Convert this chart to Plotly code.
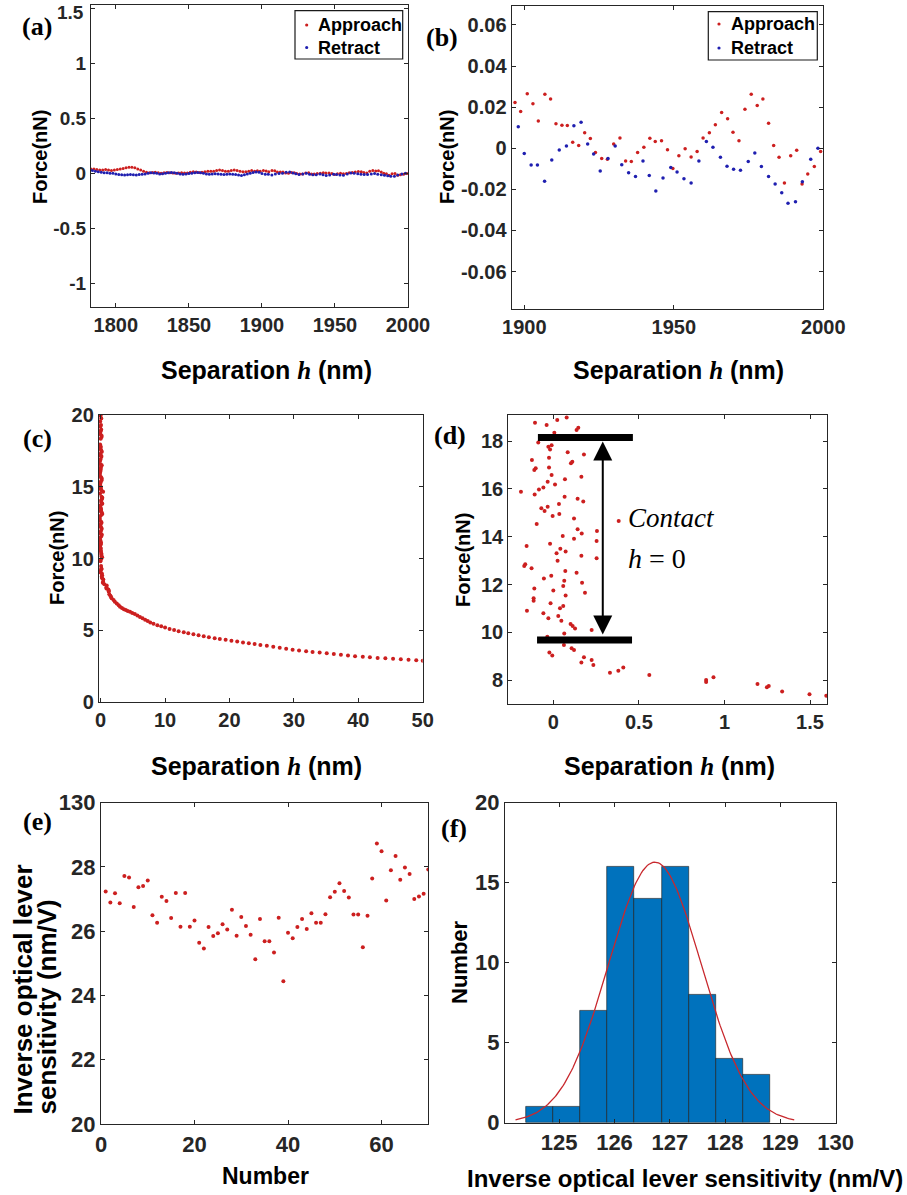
import plotly.graph_objects as go
import numpy as np

W, H = 907, 1195

# ---------------- (a)/(b) force vs separation far from surface ----------------
# part of the curves shown only in (a) (1783-1896 nm)
approach_x_far = [1783, 1785, 1787, 1789, 1791, 1793, 1795, 1797, 1799,
                  1801, 1803, 1805, 1807, 1809, 1811, 1813, 1815, 1817, 1819,
                  1821, 1823, 1825, 1827, 1829, 1831, 1833, 1835, 1837, 1839, 1841, 1843, 1845, 1847, 1849,
                  1851, 1853, 1855, 1857, 1859, 1861, 1863, 1865, 1867, 1869, 1871, 1873,
                  1875, 1877, 1879, 1881, 1883, 1885, 1887, 1889, 1891, 1893, 1895]
approach_f_far = [0.04, 0.04, 0.035, 0.03, 0.03, 0.035, 0.03, 0.025, 0.03,
                  0.035, 0.04, 0.045, 0.05, 0.055, 0.055, 0.05, 0.04, 0.03, 0.02,
                  0.01, 0.005, 0.008, 0.01, 0.005, 0.0, 0.005, 0.008, 0.006, 0.003, 0.0, 0.002, 0.005, 0.004, 0.002,
                  0.01, 0.015, 0.012, 0.008, 0.01, 0.015, 0.02, 0.018, 0.02, 0.025, 0.03, 0.025,
                  0.02, 0.02, 0.025, 0.03, 0.025, 0.02, 0.015, 0.015, 0.02, 0.025, 0.02]
retract_x_far = [1784, 1786, 1788, 1790, 1792, 1794, 1796, 1798, 1800,
                 1802, 1804, 1806, 1808, 1810, 1812, 1814, 1816, 1818, 1820,
                 1822, 1824, 1826, 1828, 1830, 1832, 1834, 1836, 1838, 1840, 1842, 1844, 1846, 1848, 1850,
                 1852, 1854, 1856, 1858, 1860, 1862, 1864, 1866, 1868, 1870, 1872, 1874,
                 1876, 1878, 1880, 1882, 1884, 1886, 1888, 1890, 1892, 1894, 1896]
retract_f_far = [0.025, 0.02, 0.015, 0.01, 0.005, 0.005, 0.0, 0.0, -0.005,
                 -0.01, -0.012, -0.015, -0.012, -0.01, -0.012, -0.015, -0.01, -0.008, -0.005,
                 0.0, 0.005, 0.003, 0.0, -0.005, -0.003, 0.0, 0.005, 0.008, 0.005, 0.0, -0.005, -0.008, -0.005, -0.002,
                 0.0, 0.005, 0.008, 0.005, 0.0, -0.005, -0.008, -0.006, -0.004, -0.005, -0.008, -0.01,
                 -0.008, -0.006, -0.008, -0.01, -0.015, -0.02, -0.012, -0.005, 0.0, 0.008, 0.012]

# part shown in (b) (1896-2000 nm), also part of (a)
approach_x = [1896.9, 1898.8, 1901.0, 1902.9, 1904.7, 1906.9, 1908.8, 1910.6, 1912.6, 1914.4,
              1916.2, 1918.2, 1920.2, 1922.1, 1923.8, 1925.9, 1927.8, 1929.9, 1932.0, 1933.9,
              1935.8, 1937.9, 1940.0, 1942.0, 1943.8, 1945.9, 1947.9, 1949.7, 1951.7, 1953.8,
              1955.8, 1957.8, 1959.8, 1961.9, 1963.9, 1966.0, 1968.0, 1969.8, 1971.8, 1973.8,
              1975.9, 1977.9, 1979.8, 1981.7, 1983.4, 1985.2, 1987.0, 1989.1, 1991.1, 1992.9,
              1994.8, 1997.0, 1999.1]
approach_f = [0.0223, 0.0179, 0.0265, 0.0216, 0.0133, 0.0263, 0.0239, 0.0119, 0.0112, 0.0111,
              0.0029, 0.0013, 0.0076, 0.0047, -0.0021, -0.0050, -0.0054, 0.0021, 0.0050, -0.0062,
              -0.0065, -0.0021, 0.0005, 0.0049, 0.0033, 0.0037, -0.0007, -0.0098, -0.0036, -0.0003,
              -0.0042, -0.0016, 0.0050, 0.0076, 0.0114, 0.0174, 0.0143, 0.0078, 0.0037, 0.0190,
              0.0263, 0.0208, 0.0239, 0.0122, 0.0013, -0.0044, -0.0169, -0.0037, -0.0010, -0.0174,
              -0.0125, -0.0089, -0.0016]
retract_x = [1898.0, 1900.0, 1902.3, 1904.4, 1906.8, 1909.2, 1911.7, 1914.1, 1916.6, 1919.0,
             1921.2, 1923.2, 1925.4, 1928.0, 1930.4, 1932.6, 1934.9, 1937.2, 1939.7, 1941.8,
             1944.0, 1946.4, 1949.0, 1951.1, 1953.4, 1955.8, 1958.4, 1960.9, 1963.1, 1965.6,
             1967.8, 1970.0, 1972.3, 1974.9, 1977.1, 1979.3, 1981.7, 1983.9, 1986.1, 1988.2,
             1990.7, 1993.0, 1995.8, 1998.2]
retract_f = [0.0104, -0.0026, -0.0081, -0.0081, -0.0161, -0.0057, -0.0008, 0.0011, 0.0109, 0.0127,
             0.0021, -0.0028, -0.0111, -0.0050, 0.0011, -0.0080, -0.0119, -0.0138, -0.0062, -0.0133,
             -0.0208, -0.0145, -0.0094, -0.0115, -0.0148, -0.0169, -0.0062, 0.0033, 0.0005, -0.0044,
             -0.0088, -0.0102, -0.0107, -0.0065, -0.0023, -0.0089, -0.0138, -0.0174, -0.0216, -0.0268,
             -0.0260, -0.0163, -0.0054, 0.0000]

# ---------------- (c)/(d) approach curve near contact ----------------
contact_h = [-0.107, -0.039, 0.023, 0.078, 0.136, 0.146, -0.088, 0.006, -0.029, -0.019,
             -0.010, 0.084, 0.179, -0.125, -0.025, 0.103, 0.111, -0.111, -0.103, -0.025,
             -0.010, 0.164, 0.068, -0.033, 0.010, -0.058, -0.084, -0.189, -0.109, 0.066,
             0.142, 0.175, -0.070, -0.051, -0.033, 0.033, -0.004, 0.035, 0.382, 0.121,
             -0.097, 0.255, 0.166, 0.142, 0.055, 0.121, -0.156, -0.019, 0.253, 0.041,
             0.072, 0.019, 0.164, 0.253, 0.025, -0.164, -0.170, -0.127, 0.070, 0.136,
             -0.012, -0.055, 0.064, 0.168, 0.058, -0.111, 0.000, 0.185, 0.072, -0.115,
             -0.115, -0.016, 0.058, 0.039, -0.154, -0.058, 0.029, -0.029, 0.047, 0.101,
             0.113, 0.127, 0.224, 0.064, -0.035, 0.062, 0.107, 0.121, -0.023, -0.006,
             0.179, 0.224, 0.164, 0.234, 0.331, 0.380, 0.409, 0.561, 0.893, 0.893,
             0.936, 1.193, 1.248, 1.259, 1.337, 1.497, 1.595,
             0.05, -0.08, 0.10, 0.00, -0.05]
contact_f = [18.77, 18.67, 18.88, 18.99, 18.46, 18.56, 17.94, 18.35, 17.76, 17.65,
             17.83, 17.53, 17.44, 17.21, 17.30, 17.07, 17.14, 16.79, 16.86, 16.90,
             16.58, 16.51, 16.40, 16.30, 16.18, 16.06, 15.98, 15.88, 15.77, 15.67,
             15.59, 15.47, 15.19, 15.08, 15.26, 15.37, 14.87, 14.95, 14.66, 14.76,
             14.53, 14.24, 14.14, 14.31, 14.03, 13.92, 13.61, 13.71, 13.82, 13.50,
             13.38, 13.31, 13.21, 13.10, 13.00, 12.85, 12.78, 12.68, 12.57, 12.50,
             12.37, 12.26, 12.16, 12.08, 11.94, 11.84, 11.75, 11.66, 11.54, 11.43,
             11.33, 11.22, 11.11, 11.01, 10.91, 10.80, 10.69, 10.59, 10.49, 10.35,
             10.27, 10.17, 10.10, 9.96, 9.82, 9.48, 9.34, 9.27, 9.16, 9.04,
             8.96, 8.85, 8.74, 8.64, 8.32, 8.40, 8.54, 8.22, 8.01, 7.93,
             8.13, 7.85, 7.71, 7.76, 7.53, 7.42, 7.35,
             19.30, 19.55, 19.75, 19.95, 19.20]
decay_h = [1.7, 2.0, 2.2, 2.5, 2.8, 3.0, 3.3, 3.6, 3.9, 4.2,
           4.55, 4.9, 5.3, 5.7, 6.1, 6.5, 6.9, 7.3, 7.7, 8.2,
           8.8, 9.4, 10.0, 10.7, 11.4, 12.1, 12.9, 13.6, 14.4, 15.2,
           16.0, 16.8, 17.7, 18.5, 19.4, 20.3, 21.2, 22.1, 23.0, 23.9,
           24.8, 25.8, 26.8, 27.8, 28.8, 29.8, 30.8, 31.9, 32.9, 34.0,
           35.1, 36.2, 37.3, 38.4, 39.5, 40.7, 41.8, 43.0, 44.2, 45.4,
           46.6, 47.8, 49.0, 50.0]
decay_f = [7.25, 7.12, 7.0, 6.88, 6.76, 6.66, 6.56, 6.48, 6.42, 6.36,
           6.3, 6.22, 6.14, 6.05, 5.94, 5.85, 5.75, 5.66, 5.56, 5.46,
           5.36, 5.3, 5.2, 5.1, 5.03, 4.95, 4.87, 4.8, 4.73, 4.66,
           4.59, 4.52, 4.46, 4.41, 4.35, 4.29, 4.23, 4.17, 4.11, 4.05,
           3.99, 3.93, 3.86, 3.79, 3.72, 3.66, 3.6, 3.55, 3.5, 3.46,
           3.41, 3.36, 3.31, 3.26, 3.21, 3.17, 3.13, 3.09, 3.06, 3.03,
           2.99, 2.96, 2.93, 2.9]

# ---------------- (e) sensitivity per measurement ----------------
measurement_no = list(range(1, 71))
sensitivity = [27.24, 26.89, 27.18, 26.87, 27.72, 27.67, 26.75, 27.37, 27.41, 27.58,
               26.50, 26.26, 27.07, 26.94, 26.41, 27.19, 26.14, 27.19, 26.14, 26.33,
               25.64, 25.46, 26.13, 25.85, 25.94, 26.22, 26.05, 26.67, 25.86, 26.44,
               26.16, 25.89, 25.13, 26.38, 25.69, 25.69, 25.34, 26.42, 24.44, 25.95,
               25.78, 26.13, 26.38, 26.07, 26.56, 26.26, 26.26, 26.53, 27.06, 27.23,
               27.49, 27.25, 27.05, 26.52, 26.52, 25.50, 26.48, 27.64, 28.73, 28.49,
               26.96, 27.90, 28.34, 27.60, 27.98, 27.78, 27.00, 27.08, 27.17, 27.92]
e_ytick_vals = [20, 22, 24, 26, 28, 30]
e_ytick_text = ["20", "22", "24", "26", "28", "130"]

# ---------------- (f) histogram ----------------
bin_edges = [124.40, 124.89, 125.38, 125.87, 126.36, 126.85, 127.34, 127.83, 128.32, 128.81]
bin_counts = [1, 1, 7, 16, 14, 16, 8, 4, 3]
fit_mean, fit_sigma = 126.73, 0.84

for a, b in [(approach_x_far, approach_f_far), (retract_x_far, retract_f_far),
             (approach_x, approach_f), (retract_x, retract_f), (contact_h, contact_f),
             (decay_h, decay_f), (measurement_no, sensitivity)]:
    assert len(a) == len(b), (len(a), len(b))
assert len(bin_edges) == len(bin_counts) + 1

RED = "#cc1f1f"
BLUE = "#1f1fb0"
TXT = "#262626"
SANS = "Liberation Sans, Arial, sans-serif"
SERIF = "Liberation Serif, Times New Roman, serif"


def px(x):
    return x / W


def py(y):
    return 1 - y / H


fig = go.Figure()

# (a)
fig.add_trace(go.Scatter(x=approach_x_far + approach_x, y=approach_f_far + approach_f, mode="markers",
                         marker=dict(color=RED, size=3), xaxis="x", yaxis="y", name="Approach"))
fig.add_trace(go.Scatter(x=retract_x_far + retract_x, y=retract_f_far + retract_f, mode="markers",
                         marker=dict(color=BLUE, size=3), xaxis="x", yaxis="y", name="Retract"))
# (b)
fig.add_trace(go.Scatter(x=approach_x, y=approach_f, mode="markers",
                         marker=dict(color=RED, size=3.5), xaxis="x2", yaxis="y2", name="Approach"))
fig.add_trace(go.Scatter(x=retract_x, y=retract_f, mode="markers",
                         marker=dict(color=BLUE, size=3.5), xaxis="x2", yaxis="y2", name="Retract"))
# (c)
fig.add_trace(go.Scatter(x=contact_h + decay_h, y=contact_f + decay_f, mode="markers",
                         marker=dict(color=RED, size=4), xaxis="x3", yaxis="y3"))
# (d)
fig.add_trace(go.Scatter(x=contact_h + decay_h, y=contact_f + decay_f, mode="markers",
                         marker=dict(color=RED, size=4), xaxis="x4", yaxis="y4"))
# (e)
fig.add_trace(go.Scatter(x=measurement_no, y=sensitivity, mode="markers",
                         marker=dict(color=RED, size=4), xaxis="x5", yaxis="y5"))
# (f)
centers = [(bin_edges[i] + bin_edges[i + 1]) / 2 for i in range(len(bin_counts))]
widths = [bin_edges[i + 1] - bin_edges[i] for i in range(len(bin_counts))]
fig.add_trace(go.Bar(x=centers, y=bin_counts, width=widths,
                     marker=dict(color="#0072BD", line=dict(color="#1a1a1a", width=0.6)),
                     xaxis="x6", yaxis="y6"))
fit_x = np.linspace(fit_mean - 3 * fit_sigma, fit_mean + 3 * fit_sigma, 200)
scale = sum(bin_counts) * np.mean(widths)
fit_y = scale * np.exp(-0.5 * ((fit_x - fit_mean) / fit_sigma) ** 2) / (fit_sigma * np.sqrt(2 * np.pi))
fig.add_trace(go.Scatter(x=fit_x, y=fit_y, mode="lines", line=dict(color="#c8282d", width=1.3),
                         xaxis="x6", yaxis="y6"))


def axis(domain_px, rng, vals, texts, anchor, fsize, vertical=False):
    if vertical:
        dom = [py(domain_px[1]), py(domain_px[0])]
    else:
        dom = [px(domain_px[0]), px(domain_px[1])]
    return dict(domain=dom, range=rng, anchor=anchor, tickmode="array", tickvals=vals, ticktext=texts,
                ticks="inside", ticklen=4, tickwidth=1.2, tickcolor=TXT, showline=True, linecolor=TXT,
                linewidth=1.3, mirror="ticks", showgrid=False, zeroline=False, fixedrange=True,
                automargin=False, ticklabeloverflow="allow",
                tickfont=dict(family=SANS, size=fsize, color=TXT, weight="bold"))


layout = dict(
    width=W, height=H, autosize=False, margin=dict(l=0, r=0, t=0, b=0, pad=0, autoexpand=False),
    paper_bgcolor="white", plot_bgcolor="white", showlegend=False, bargap=0,
    xaxis=axis([91, 408], [1783, 2000], [1800, 1850, 1900, 1950, 2000],
               ["1800", "1850", "1900", "1950", "2000"], "y", 20),
    # top label "1.5" is drawn as an annotation just inside the page (as in the reference)
    yaxis=axis([5, 307], [-1.215, 1.53], [-1, -0.5, 0, 0.5, 1, 1.5],
               ["-1", "-0.5", "0", "0.5", "1", ""], "x", 19, True),
    xaxis2=axis([511.7, 823.3], [1895.8, 2000], [1900, 1950, 2000], ["1900", "1950", "2000"], "y2", 20),
    yaxis2=axis([6, 309], [-0.0782, 0.0692], [-0.06, -0.04, -0.02, 0, 0.02, 0.04, 0.06],
                ["-0.06", "-0.04", "-0.02", "0", "0.02", "0.04", "0.06"], "x2", 20, True),
    xaxis3=axis([99, 422.7], [-0.26, 50], [0, 10, 20, 30, 40, 50],
                ["0", "10", "20", "30", "40", "50"], "y3", 20),
    yaxis3=axis([415, 702.3], [0, 20], [0, 5, 10, 15, 20], ["0", "5", "10", "15", "20"], "x3", 20, True),
    xaxis4=axis([508.3, 827.3], [-0.263, 1.601], [0, 0.5, 1, 1.5], ["0", "0.5", "1", "1.5"], "y4", 20),
    yaxis4=axis([415, 704], [7.01, 19.09], [8, 10, 12, 14, 16, 18],
                ["8", "10", "12", "14", "16", "18"], "x4", 20, True),
    xaxis5=axis([101, 428.3], [0, 70], [0, 20, 40, 60], ["0", "20", "40", "60"], "y5", 22),
    yaxis5=axis([802.7, 1124], [20, 30], e_ytick_vals, e_ytick_text, "x5", 22, True),
    xaxis6=axis([505, 835.7], [124.02, 130], [125, 126, 127, 128, 129, 130],
                ["125", "126", "127", "128", "129", "130"], "y6", 22),
    yaxis6=axis([802.7, 1122.7], [0, 20], [0, 5, 10, 15, 20], ["0", "5", "10", "15", "20"], "x6", 22, True),
)
fig.update_layout(**layout)

annotations = []


def label(text, x, y, size, family=SANS, angle=0, xanchor="center", yanchor="middle", weight="bold",
          color="#000000"):
    annotations.append(dict(text=text, x=px(x), y=py(y), xref="paper", yref="paper", showarrow=False,
                            xanchor=xanchor, yanchor=yanchor, textangle=angle,
                            font=dict(family=family, size=size, color=color, weight=weight)))


H_IT = '<span style="font-family:Liberation Serif;font-style:italic">h</span>'
sep_title = "Separation " + H_IT + " (nm)"

# top tick label of (a)
label("1.5", 86, 13, 19, xanchor="right", color=TXT)
# x titles
label(sep_title, 266, 370, 25)
label(sep_title, 678, 370, 25)
label(sep_title, 256, 766, 25)
label(sep_title, 669, 766, 25)
label("Number", 265, 1176, 23)
label("Inverse optical lever sensitivity (nm/V)", 685, 1178, 24)
# y titles
label("Force(nN)", 40, 157, 20, angle=-90)
label("Force(nN)", 447, 157, 20, angle=-90)
label("Force(nN)", 57, 558, 20, angle=-90)
label("Force(nN)", 463, 560, 20, angle=-90)
label("Inverse optical lever", 22.5, 1117, 26, angle=-90, yanchor="bottom")
label("sensitivity (nm/V)", 46, 1117, 26, angle=-90, yanchor="bottom")
label("Number", 459, 962, 22, angle=-90)
# panel letters
for t, x, y in [("(a)", 37, 26), ("(b)", 442, 37), ("(c)", 37, 438), ("(d)", 450, 435),
                ("(e)", 37, 821), ("(f)", 454, 828)]:
    label(t, x, y, 26, family=SERIF)

# legends (a) and (b)
shapes = []
for (bx0, by0, bx1, by1, dotx, texx, r1, r2) in [(295, 10.7, 402.7, 59, 306.7, 316, 25, 47.5),
                                                  (708.3, 11.7, 817.3, 60, 719, 729.3, 24, 48)]:
    shapes.append(dict(type="rect", xref="paper", yref="paper", x0=px(bx0), x1=px(bx1), y0=py(by1), y1=py(by0),
                       line=dict(color="#1a1a1a", width=1.2), fillcolor="white", layer="above"))
    for yy, col in [(r1, RED), (r2, BLUE)]:
        shapes.append(dict(type="circle", xref="paper", yref="paper", xsizemode="pixel", ysizemode="pixel",
                           xanchor=px(dotx), yanchor=py(yy), x0=-1.6, x1=1.6, y0=-1.6, y1=1.6,
                           fillcolor=col, line=dict(width=0), layer="above"))
    label("Approach", texx, r1, 18, xanchor="left")
    label("Retract", texx, r2, 18, xanchor="left")

# (d) contact annotation: bars, arrow, text
shapes.append(dict(type="line", xref="x4", yref="y4", x0=-0.09, x1=0.465, y0=18.15, y1=18.15,
                   line=dict(color="black", width=7)))
shapes.append(dict(type="line", xref="x4", yref="y4", x0=-0.095, x1=0.46, y0=9.68, y1=9.68,
                   line=dict(color="black", width=7)))
annotations.append(dict(x=0.289, y=17.98, ax=0.289, ay=9.85, xref="x4", yref="y4", axref="x4", ayref="y4",
                        text="", showarrow=True, arrowhead=2, arrowside="end+start", arrowsize=1.9,
                        arrowwidth=2, arrowcolor="black", standoff=0, startstandoff=0))
annotations.append(dict(x=0.423, y=14.77, xref="x4", yref="y4", text="<i>Contact</i>", showarrow=False,
                        xanchor="left", yanchor="middle",
                        font=dict(family=SERIF, size=27, color="black")))
annotations.append(dict(x=0.423, y=13.10, xref="x4", yref="y4", text="<i>h</i> = 0", showarrow=False,
                        xanchor="left", yanchor="middle",
                        font=dict(family=SERIF, size=28, color="black")))

fig.update_layout(annotations=annotations, shapes=shapes)
fig.write_html("out.html", config=dict(displayModeBar=False),
               post_script="document.body.style.margin='0';document.body.style.overflow='hidden';")
